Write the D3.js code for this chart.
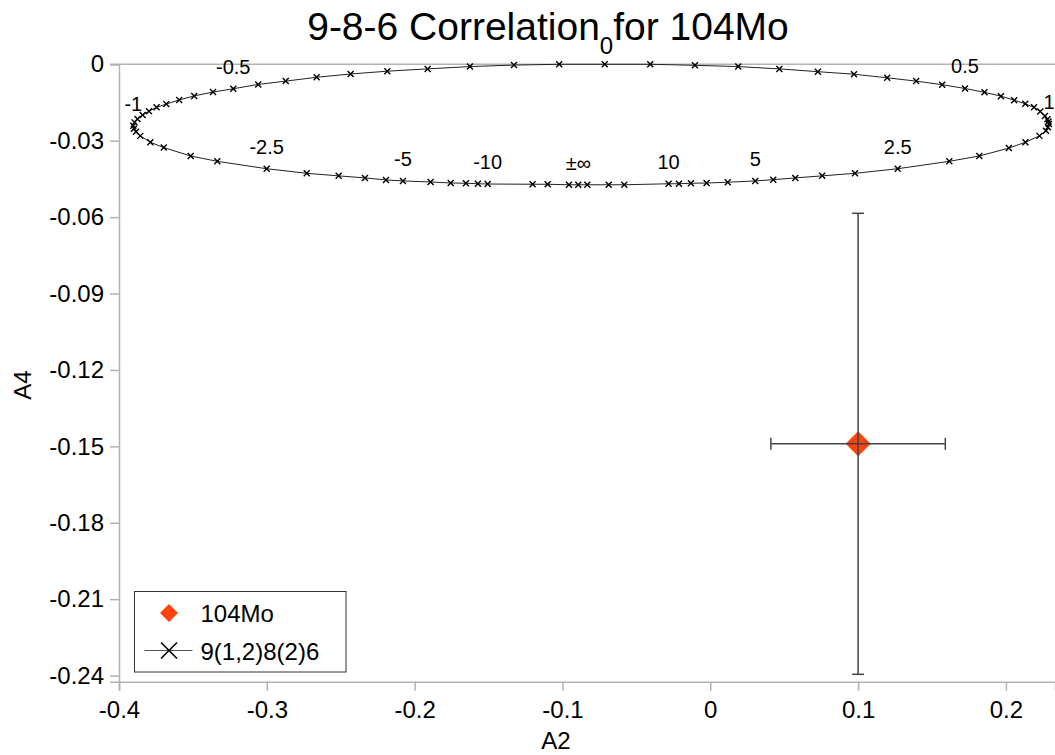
<!DOCTYPE html>
<html>
<head>
<meta charset="utf-8">
<script src="https://cdn.jsdelivr.net/npm/d3@7"></script>
<style>
  body { margin: 0; background: #fff; }
  svg { font-family: "Liberation Sans", Arial, sans-serif; }
</style>
</head>
<body>
<svg id="chart" width="1055" height="755"></svg>
<script>
// measured point 104Mo
var expA2 = [0.1];
var expA4 = [-0.149];
var expA2Err = [0.059];
var expA4Err = [0.0905];

// 9(1,2)8(2)6 correlation curve, starting at delta = +-inf
var curveA2 = [
  -0.0893, -0.0832, -0.0687, -0.0582, -0.0282, -0.0212, -0.0131, -0.0025, 0.0118, 0.0304,
  0.0426, 0.0575, 0.0757, 0.0979, 0.1268, 0.1617, 0.1820, 0.2020, 0.2132, 0.2227,
  0.2271, 0.2284, 0.2291, 0.2288, 0.2281, 0.2264, 0.2232, 0.2190, 0.2131, 0.2056,
  0.1966, 0.1855, 0.1723, 0.1569, 0.1393, 0.1197, 0.0972, 0.0728, 0.0467, 0.0189,
  -0.0104, -0.0406, -0.0714, -0.1022, -0.1328, -0.1626, -0.1912, -0.2185, -0.2433, -0.2663,
  -0.2872, -0.3058, -0.3227, -0.3364, -0.3491, -0.3593, -0.3680, -0.3746, -0.3797, -0.3840,
  -0.3875, -0.3895, -0.3903, -0.3899, -0.3885, -0.3856, -0.3788, -0.3697, -0.3515, -0.3335,
  -0.3001, -0.2730, -0.2514, -0.2336, -0.2194, -0.2079, -0.1892, -0.1756, -0.1653, -0.1572,
  -0.1506, -0.1202, -0.1100, -0.0956
];
var curveA4 = [
  -0.0473, -0.0473, -0.0473, -0.0473, -0.0469, -0.0469, -0.0467, -0.0466, -0.0463, -0.0458,
  -0.0453, -0.0446, -0.0438, -0.0428, -0.0410, -0.0381, -0.0360, -0.0329, -0.0306, -0.0281,
  -0.0261, -0.0247, -0.0234, -0.0225, -0.0216, -0.0203, -0.0185, -0.0169, -0.0155, -0.0141,
  -0.0125, -0.0110, -0.0095, -0.0080, -0.0066, -0.0053, -0.0039, -0.0029, -0.0018, -0.0009,
  -0.0004, 0.0000, 0.0000, 0.0000, -0.0003, -0.0009, -0.0018, -0.0027, -0.0038, -0.0051,
  -0.0066, -0.0079, -0.0096, -0.0109, -0.0124, -0.0140, -0.0156, -0.0169, -0.0184, -0.0199,
  -0.0215, -0.0228, -0.0241, -0.0253, -0.0265, -0.0281, -0.0306, -0.0327, -0.0360, -0.0381,
  -0.0410, -0.0428, -0.0438, -0.0446, -0.0454, -0.0458, -0.0462, -0.0466, -0.0467, -0.0469,
  -0.0470, -0.0471, -0.0471, -0.0473
];
// which curve points carry a delta label
var labelIdx = [0, 4, 9, 14, 22, 32, 52, 62, 70, 75, 80];
var labelText = ["±∞", "10", "5", "2.5", "1", "0.5", "-0.5", "-1", "-2.5", "-5", "-10"];

var xTicks = [-0.4, -0.3, -0.2, -0.1, 0, 0.1, 0.2];
var yTicks = [0, -0.03, -0.06, -0.09, -0.12, -0.15, -0.18, -0.21, -0.24];

var svg = d3.select("#chart");
var axisCol = "#b3b3b3";
var pointCol = "#ff420e";

var x = d3.scaleLinear().domain([-0.4, 0.2332]).range([119, 1055]);
var y = d3.scaleLinear().domain([-0.2424, 0]).range([681.7, 64.3]);

// title
var title = svg.append("text")
  .attr("x", 548).attr("y", 40)
  .attr("text-anchor", "middle")
  .style("font-size", "39px");
title.append("tspan").text("9-8-6 Correlation");
title.append("tspan").text("0").style("font-size", "24px").attr("dy", 14);
title.append("tspan").text("for 104Mo").attr("dy", -14);

// top line at A4 = 0
svg.append("line")
  .attr("x1", 110).attr("x2", 1055)
  .attr("y1", y(0)).attr("y2", y(0))
  .attr("stroke", axisCol).attr("stroke-width", 1.5);

// axes (plain hyphen minus, like the original)
var xAxis = svg.append("g")
  .attr("transform", "translate(0," + y.range()[0] + ")")
  .call(d3.axisBottom(x).tickValues(xTicks).tickSize(9).tickPadding(10)
    .tickFormat(function(d){ return String(+d.toFixed(1)); }));
var yAxis = svg.append("g")
  .attr("transform", "translate(" + x.range()[0] + ",0)")
  .call(d3.axisLeft(y).tickValues(yTicks).tickSize(9).tickPadding(6)
    .tickFormat(function(d){ return String(+d.toFixed(2)); }));
[xAxis, yAxis].forEach(function(g){
  g.select(".domain").attr("stroke", axisCol).attr("stroke-width", 1.5);
  g.selectAll(".tick line").attr("stroke", axisCol).attr("stroke-width", 1.5);
  g.selectAll(".tick text").attr("fill", "#000").style("font-size", "24px")
    .style("font-family", "Liberation Sans, Arial, sans-serif");
});

svg.append("text").attr("x", 556).attr("y", 749)
  .attr("text-anchor", "middle").style("font-size", "24px").text("A2");
svg.append("text")
  .attr("transform", "translate(31,385) rotate(-90)")
  .attr("text-anchor", "middle").style("font-size", "24px").text("A4");

// correlation curve
var curvePts = curveA2.map(function(v, i){ return [v, curveA4[i]]; });
var line = d3.line()
  .x(function(d){ return x(d[0]); })
  .y(function(d){ return y(d[1]); })
  .curve(d3.curveLinearClosed);
svg.append("path").datum(curvePts)
  .attr("d", line).attr("fill", "none")
  .attr("stroke", "#222").attr("stroke-width", 1);

var cross = "M-3,-3L3,3M-3,3L3,-3";
svg.append("g").selectAll("path").data(curvePts).enter().append("path")
  .attr("d", cross)
  .attr("transform", function(d){ return "translate(" + x(d[0]) + "," + y(d[1]) + ")"; })
  .attr("stroke", "#000").attr("stroke-width", 1.4).attr("fill", "none");

svg.append("g").selectAll("text").data(labelIdx).enter().append("text")
  .attr("x", function(d){ return x(curveA2[d]); })
  .attr("y", function(d){ return y(curveA4[d]) - 15; })
  .attr("text-anchor", "middle")
  .style("font-size", "20px")
  .text(function(d, i){ return labelText[i]; });

// experimental point with error bars
var pt = svg.append("g");
var diamond = "M0,-12.5L12.5,0L0,12.5L-12.5,0Z";
expA2.forEach(function(v, i){
  var cx = x(v), cy = y(expA4[i]);
  pt.append("path").attr("d", diamond)
    .attr("transform", "translate(" + cx + "," + cy + ")")
    .attr("fill", pointCol);
  var errCol = "#444";
  var x0 = x(v - expA2Err[i]), x1 = x(v + expA2Err[i]);
  var y0 = y(expA4[i] + expA4Err[i]), y1 = y(expA4[i] - expA4Err[i]);
  pt.append("line").attr("x1", x0).attr("x2", x1).attr("y1", cy).attr("y2", cy)
    .attr("stroke", errCol).attr("stroke-width", 1.5);
  pt.append("line").attr("x1", cx).attr("x2", cx).attr("y1", y0).attr("y2", y1)
    .attr("stroke", errCol).attr("stroke-width", 1.5);
  [x0, x1].forEach(function(xx){
    pt.append("line").attr("x1", xx).attr("x2", xx).attr("y1", cy - 6).attr("y2", cy + 6)
      .attr("stroke", errCol).attr("stroke-width", 1.5);
  });
  [y0, y1].forEach(function(yy){
    pt.append("line").attr("x1", cx - 6).attr("x2", cx + 6).attr("y1", yy).attr("y2", yy)
      .attr("stroke", errCol).attr("stroke-width", 1.5);
  });
});

// legend
var leg = svg.append("g").attr("transform", "translate(134.5,591.5)");
leg.append("rect").attr("width", 211.5).attr("height", 80.5)
  .attr("fill", "#fff").attr("stroke", "#333").attr("stroke-width", 1);
leg.append("path").attr("d", "M0,-9L9,0L0,9L-9,0Z")
  .attr("transform", "translate(34.5,21.5)").attr("fill", pointCol);
leg.append("text").attr("x", 66).attr("y", 30).style("font-size", "24px").text("104Mo");
leg.append("line").attr("x1", 10).attr("x2", 58).attr("y1", 59).attr("y2", 59)
  .attr("stroke", "#555").attr("stroke-width", 1.2);
leg.append("path").attr("d", "M-8,-8L8,8M-8,8L8,-8")
  .attr("transform", "translate(34.5,59)")
  .attr("stroke", "#000").attr("stroke-width", 1.6);
leg.append("text").attr("x", 66).attr("y", 68).style("font-size", "24px").text("9(1,2)8(2)6");
</script>
</body>
</html>
